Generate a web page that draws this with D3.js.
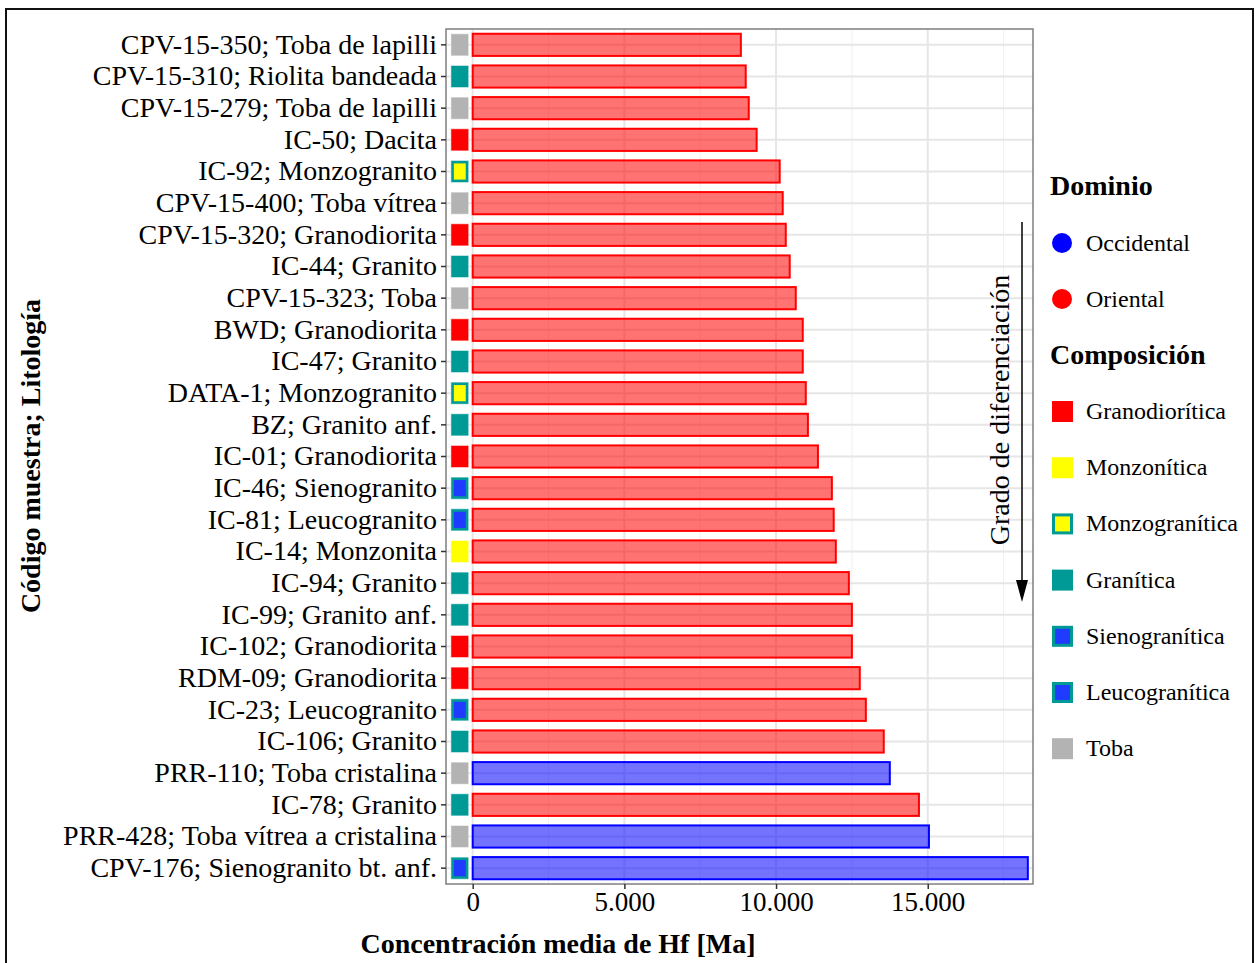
<!DOCTYPE html>
<html>
<head>
<meta charset="utf-8">
<script src="https://cdn.jsdelivr.net/npm/d3@7"></script>
<style>
  html, body { margin: 0; padding: 0; background: #fff; }
  svg text { font-family: "Liberation Serif", "Times New Roman", serif; fill: #000; }
</style>
</head>
<body>
<script>
// muestras, de arriba hacia abajo
var samples = [
  "CPV-15-350; Toba de lapilli", "CPV-15-310; Riolita bandeada", "CPV-15-279; Toba de lapilli",
  "IC-50; Dacita", "IC-92; Monzogranito", "CPV-15-400; Toba vítrea", "CPV-15-320; Granodiorita",
  "IC-44; Granito", "CPV-15-323; Toba", "BWD; Granodiorita", "IC-47; Granito",
  "DATA-1; Monzogranito", "BZ; Granito anf.", "IC-01; Granodiorita", "IC-46; Sienogranito",
  "IC-81; Leucogranito", "IC-14; Monzonita", "IC-94; Granito", "IC-99; Granito anf.",
  "IC-102; Granodiorita", "RDM-09; Granodiorita", "IC-23; Leucogranito", "IC-106; Granito",
  "PRR-110; Toba cristalina", "IC-78; Granito", "PRR-428; Toba vítrea a cristalina",
  "CPV-176; Sienogranito bt. anf."
];
var hf = [
  8840, 9000, 9100, 9360, 10120, 10220, 10320, 10450, 10650, 10880, 10880,
  10980, 11050, 11380, 11840, 11900, 11970, 12400, 12500, 12500, 12760, 12960,
  13550, 13750, 14710, 15040, 18300
];
var dominio = [
  "Oriental", "Oriental", "Oriental", "Oriental", "Oriental", "Oriental", "Oriental",
  "Oriental", "Oriental", "Oriental", "Oriental", "Oriental", "Oriental", "Oriental",
  "Oriental", "Oriental", "Oriental", "Oriental", "Oriental", "Oriental", "Oriental",
  "Oriental", "Oriental", "Occidental", "Oriental", "Occidental", "Occidental"
];
var composicion = [
  "Toba", "Granítica", "Toba", "Granodiorítica", "Monzogranítica", "Toba", "Granodiorítica",
  "Granítica", "Toba", "Granodiorítica", "Granítica", "Monzogranítica", "Granítica",
  "Granodiorítica", "Sienogranítica", "Leucogranítica", "Monzonítica", "Granítica",
  "Granítica", "Granodiorítica", "Granodiorítica", "Leucogranítica", "Granítica", "Toba",
  "Granítica", "Toba", "Sienogranítica"
];
var dominioKeys = ["Occidental", "Oriental"];
var compKeys = ["Granodiorítica", "Monzonítica", "Monzogranítica", "Granítica",
                "Sienogranítica", "Leucogranítica", "Toba"];
var xTicks = [0, 5000, 10000, 15000];
var xMinor = [2500, 7500, 12500, 17500];

var domColor = { Occidental: "#0000ff", Oriental: "#ff0000" };
var compStyle = {
  "Granodiorítica": { fill: "#ff0000", edge: null },
  "Monzonítica":    { fill: "#ffff00", edge: null },
  "Monzogranítica": { fill: "#ffff00", edge: "#009a96" },
  "Granítica":      { fill: "#009a96", edge: null },
  "Sienogranítica": { fill: "#1f3bff", edge: "#009a96" },
  "Leucogranítica": { fill: "#1f3bff", edge: "#009a96" },
  "Toba":           { fill: "#b3b3b3", edge: null }
};

var W = 1256, H = 963;
var panel = { left: 446, right: 1033, top: 29, bottom: 884 };

var svg = d3.select("body").append("svg").attr("width", W).attr("height", H);

// marco exterior
svg.append("path")
  .attr("d", "M6,975 V9 H1253 V975")
  .attr("fill", "none").attr("stroke", "#111").attr("stroke-width", 2);

var x = d3.scaleLinear().domain([-880, 18470]).range([panel.left, panel.right]);
var y = d3.scaleBand().domain(samples).range([panel.top, panel.bottom])
  .paddingInner(0.3).paddingOuter(0.15);
var yc = function (s) { return y(s) + y.bandwidth() / 2; };

var rows = samples.map(function (s, i) {
  return { name: s, value: hf[i], dom: dominio[i], comp: composicion[i] };
});

// rejilla
var grid = svg.append("g");
grid.selectAll("line.minor").data(xMinor).join("line")
  .attr("x1", function (d) { return x(d); }).attr("x2", function (d) { return x(d); })
  .attr("y1", panel.top).attr("y2", panel.bottom)
  .attr("stroke", "#f0f0f0").attr("stroke-width", 1);
grid.selectAll("line.major").data(xTicks).join("line")
  .attr("x1", function (d) { return x(d); }).attr("x2", function (d) { return x(d); })
  .attr("y1", panel.top).attr("y2", panel.bottom)
  .attr("stroke", "#e6e6e6").attr("stroke-width", 2);
grid.selectAll("line.h").data(samples).join("line")
  .attr("x1", panel.left).attr("x2", panel.right)
  .attr("y1", yc).attr("y2", yc)
  .attr("stroke", "#e6e6e6").attr("stroke-width", 2);

// barras
svg.append("g").selectAll("rect").data(rows).join("rect")
  .attr("x", x(0))
  .attr("y", function (d) { return y(d.name); })
  .attr("width", function (d) { return x(d.value) - x(0); })
  .attr("height", y.bandwidth())
  .attr("fill", function (d) { return domColor[d.dom]; })
  .attr("fill-opacity", 0.55)
  .attr("stroke", function (d) { return domColor[d.dom]; })
  .attr("stroke-width", 2);

// cuadros de composición
var sq0 = -720, sq1 = -130;
var tiles = svg.append("g").selectAll("g").data(rows).join("g");
tiles.append("rect")
  .attr("x", x(sq0)).attr("y", function (d) { return y(d.name); })
  .attr("width", x(sq1) - x(sq0)).attr("height", y.bandwidth())
  .attr("fill", function (d) { var s = compStyle[d.comp]; return s.edge || s.fill; })
  .attr("stroke", "#ffffff").attr("stroke-opacity", 0.6).attr("stroke-width", 1);
tiles.filter(function (d) { return compStyle[d.comp].edge; }).append("rect")
  .attr("x", x(sq0) + 3).attr("y", function (d) { return y(d.name) + 3; })
  .attr("width", x(sq1) - x(sq0) - 6).attr("height", y.bandwidth() - 6)
  .attr("fill", function (d) { return compStyle[d.comp].fill; });

// borde del panel
svg.append("rect")
  .attr("x", panel.left).attr("y", panel.top)
  .attr("width", panel.right - panel.left).attr("height", panel.bottom - panel.top)
  .attr("fill", "none").attr("stroke", "#7f7f7f").attr("stroke-width", 1.5);

// ejes
var yAxis = svg.append("g").attr("transform", "translate(" + panel.left + ",0)")
  .call(d3.axisLeft(y).tickSize(5).tickPadding(4));
yAxis.select(".domain").remove();
yAxis.selectAll(".tick line").attr("stroke", "#333").attr("stroke-width", 1.5);
yAxis.selectAll(".tick text").attr("font-size", 28).attr("fill", "#000")
  .attr("font-family", "Liberation Serif");

var fmt = function (d) { return d3.format(",")(d).replace(/,/g, "."); };
var xAxis = svg.append("g").attr("transform", "translate(0," + panel.bottom + ")")
  .call(d3.axisBottom(x).tickValues(xTicks).tickFormat(fmt).tickSize(5).tickPadding(3));
xAxis.select(".domain").remove();
xAxis.selectAll(".tick line").attr("stroke", "#333").attr("stroke-width", 1.5);
xAxis.selectAll(".tick text").attr("font-size", 27).attr("fill", "#000")
  .attr("font-family", "Liberation Serif");

// títulos de ejes
svg.append("text")
  .attr("x", 558).attr("y", 953).attr("text-anchor", "middle")
  .attr("font-size", 28).attr("font-weight", "bold")
  .text("Concentración media de Hf [Ma]");
svg.append("text")
  .attr("transform", "translate(40,456) rotate(-90)").attr("text-anchor", "middle")
  .attr("font-size", 28).attr("font-weight", "bold")
  .text("Código muestra; Litología");

// flecha
svg.append("line")
  .attr("x1", 1022).attr("x2", 1022).attr("y1", 222).attr("y2", 590)
  .attr("stroke", "#000").attr("stroke-width", 1.5);
svg.append("path")
  .attr("d", "M1016,580 L1022,602 L1028,580 Z").attr("fill", "#000");
svg.append("text")
  .attr("transform", "translate(1009,410) rotate(-90)").attr("text-anchor", "middle")
  .attr("font-size", 28).text("Grado de diferenciación");

// leyenda
var leg = svg.append("g");
leg.append("text").attr("x", 1050).attr("y", 195).attr("font-size", 28)
  .attr("font-weight", "bold").text("Dominio");
var dItems = leg.selectAll("g.dom").data(dominioKeys).join("g")
  .attr("transform", function (d, i) { return "translate(0," + (243 + i * 56) + ")"; });
dItems.append("circle").attr("cx", 1062).attr("cy", 0).attr("r", 10)
  .attr("fill", function (d) { return domColor[d]; });
dItems.append("text").attr("x", 1086).attr("y", 8).attr("font-size", 24).text(function (d) { return d; });

leg.append("text").attr("x", 1050).attr("y", 364).attr("font-size", 28)
  .attr("font-weight", "bold").text("Composición");
var cItems = leg.selectAll("g.comp").data(compKeys).join("g")
  .attr("transform", function (d, i) { return "translate(0," + (411 + i * 56.2) + ")"; });
cItems.append("rect").attr("x", 1052).attr("y", -10).attr("width", 21).attr("height", 21)
  .attr("fill", function (d) { var s = compStyle[d]; return s.edge || s.fill; });
cItems.filter(function (d) { return compStyle[d].edge; }).append("rect")
  .attr("x", 1055).attr("y", -7).attr("width", 15).attr("height", 15)
  .attr("fill", function (d) { return compStyle[d].fill; });
cItems.append("text").attr("x", 1086).attr("y", 8).attr("font-size", 24).text(function (d) { return d; });
</script>
</body>
</html>
